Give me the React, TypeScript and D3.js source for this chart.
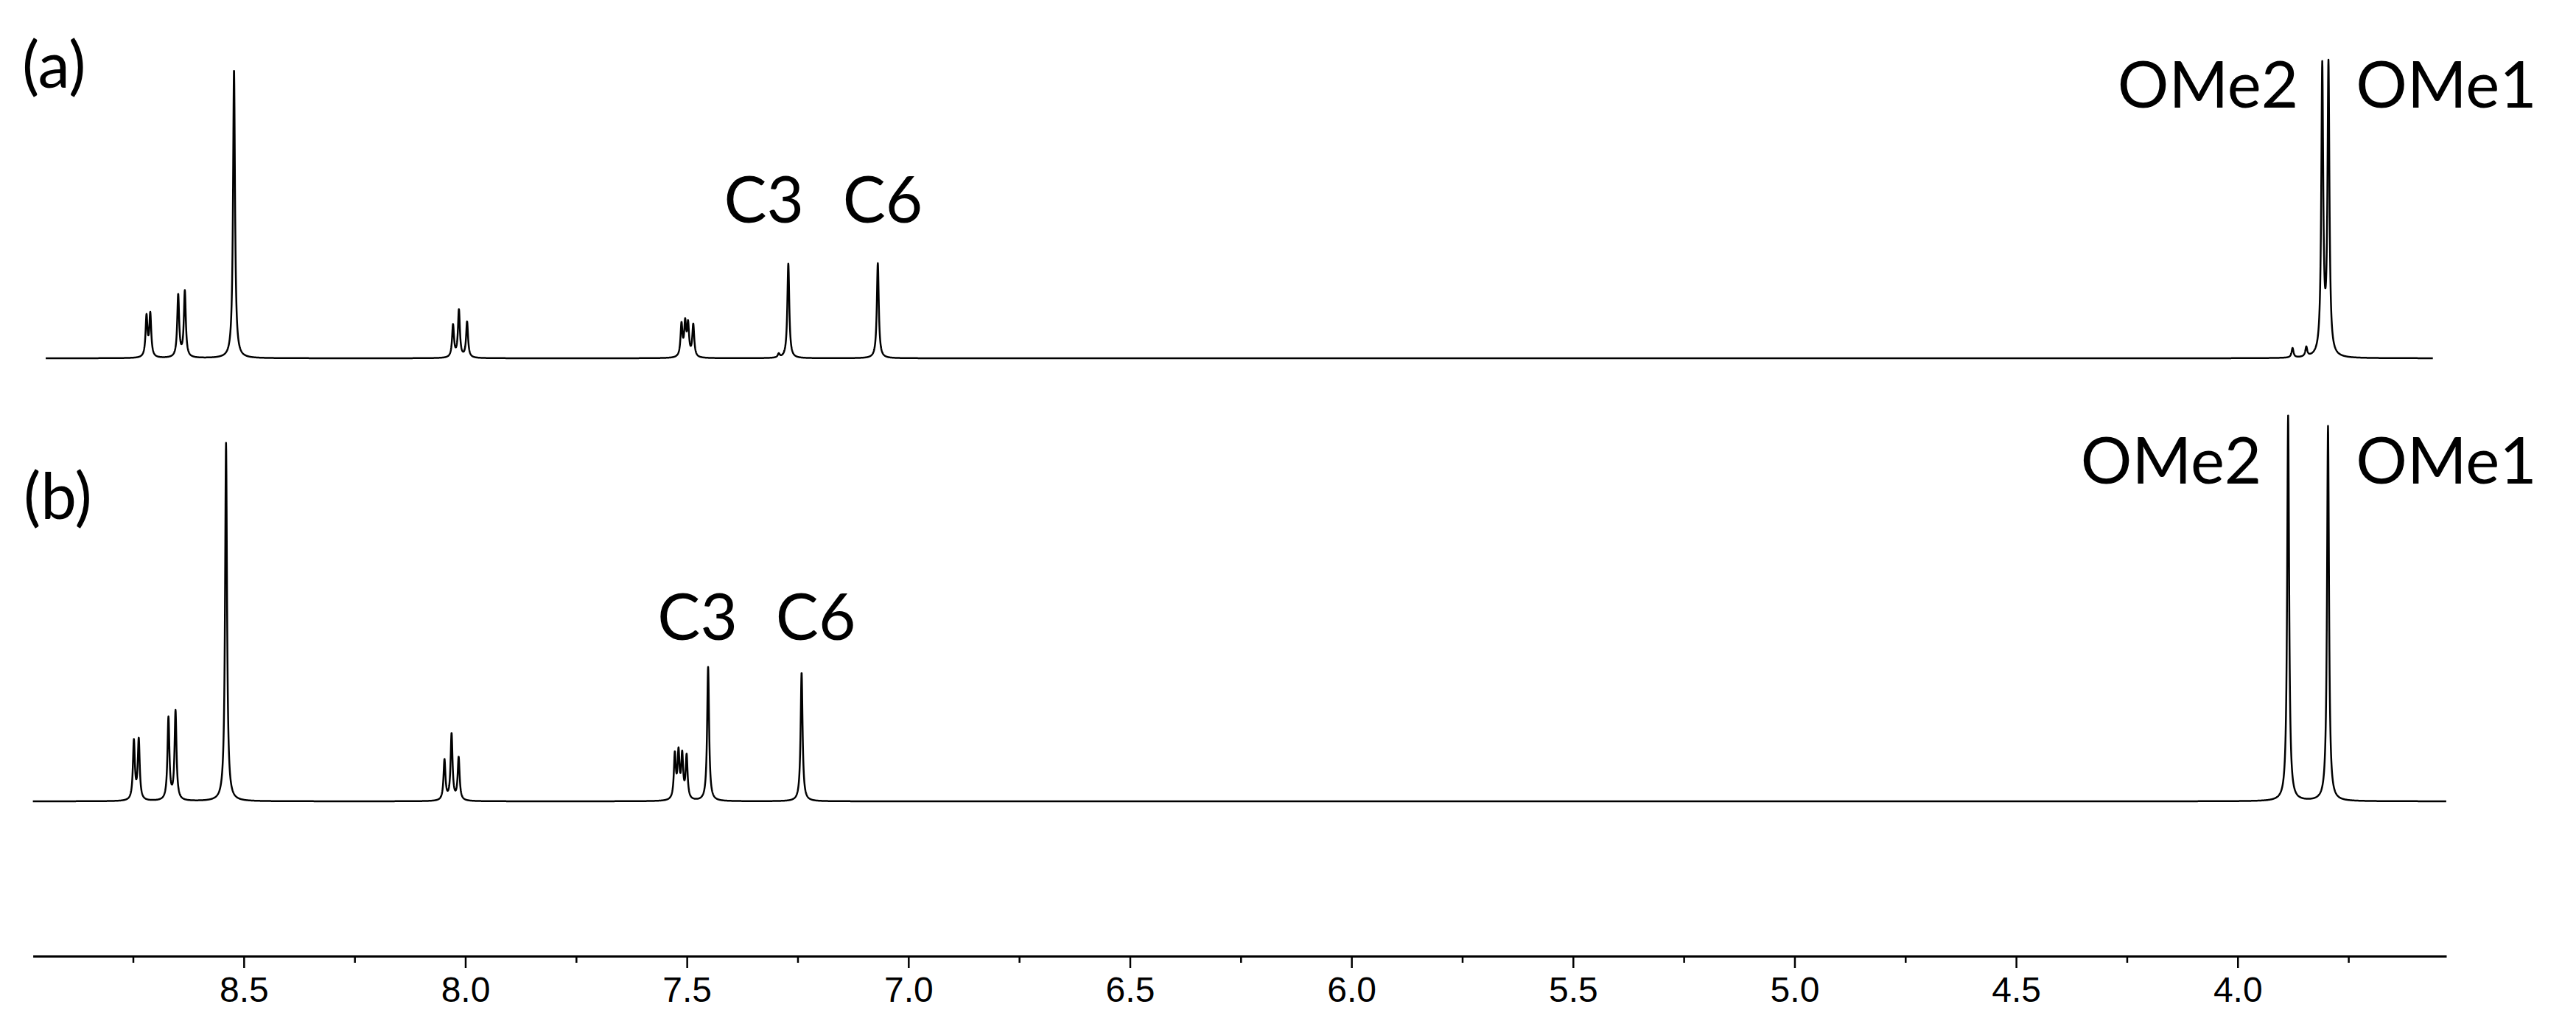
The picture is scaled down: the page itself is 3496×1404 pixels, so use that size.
import { useEffect, useMemo, useRef } from "react";
import * as d3 from "d3";

// peak lists: [ppm, relative height]
const peaksA: [number, number][] = [
  [8.7195, 14.0], [8.711, 14.8],
  [8.648, 21.6], [8.633, 22.9],
  [8.522, 100],
  [8.0277, 11.2], [8.0144, 16.4], [7.996, 12.4],
  [7.5121, 11.2], [7.5038, 11.2], [7.4972, 10.8], [7.4855, 11.2],
  [7.2926, 1.3],
  [7.271, 32.7],
  [7.069, 32.9],
  [3.876, 3.3], [3.845, 3.3],
  [3.809, 99.5], [3.795, 100],
];

const peaksB: [number, number][] = [
  [8.748, 20.4], [8.737, 20.9],
  [8.67, 28.5], [8.654, 30.8],
  [8.54, 124],
  [8.047, 14.0], [8.031, 23.0], [8.015, 14.8],
  [7.5271, 15.4], [7.5188, 15.6], [7.5105, 14.8], [7.5005, 15.0],
  [7.452, 46.4],
  [7.241, 44.6],
  [3.886, 133.4],
  [3.796, 129.8],
];

// window of each trace (ppm)
const rangeA = [8.947, 3.559];
const rangeB = [8.976, 3.529];

const majorTicks = [8.5, 8.0, 7.5, 7.0, 6.5, 6.0, 5.5, 5.0, 4.5, 4.0];
const minorTicks = [8.75, 8.25, 7.75, 7.25, 6.75, 6.25, 5.75, 5.25, 4.75, 4.25, 3.75];

// peak labels, anchored in ppm
const labelsA = [
  { text: "C3", ppm: 7.326 },
  { text: "C6", ppm: 7.058 },
  { text: "OMe2", ppm: 4.067 },
  { text: "OMe1", ppm: 3.529 },
];
const labelsB = [
  { text: "C3", ppm: 7.476 },
  { text: "C6", ppm: 7.209 },
  { text: "OMe2", ppm: 4.15 },
  { text: "OMe1", ppm: 3.529 },
];

const W = 3496;
const H = 1404;
const HWHM = 0.0026;
const STEP = 0.0004;
const FONT = "Lato, 'Open Sans', sans-serif";

function spectrum(peaks: [number, number][], range: number[]) {
  const pts: [number, number][] = [];
  for (let p = range[0]; p >= range[1]; p -= STEP) {
    let v = 0;
    for (const [c, h] of peaks) {
      const d = (p - c) / HWHM;
      v += h / (1 + d * d);
    }
    pts.push([p, v]);
  }
  return pts;
}

export default function App() {
  const axisRef = useRef<SVGGElement>(null);

  const x = d3.scaleLinear().domain([8.976, 3.529]).range([44.6, 3320]);
  const yA = d3.scaleLinear().domain([0, 100]).range([486, 94]);
  const yB = d3.scaleLinear().domain([0, 100]).range([1087, 695]);

  const pathA = useMemo(() => {
    const line = d3
      .line<[number, number]>()
      .x((d) => x(d[0]))
      .y((d) => yA(d[1]));
    return line(spectrum(peaksA, rangeA)) || "";
  }, []);

  const pathB = useMemo(() => {
    const line = d3
      .line<[number, number]>()
      .x((d) => x(d[0]))
      .y((d) => yB(d[1]));
    return line(spectrum(peaksB, rangeB)) || "";
  }, []);

  useEffect(() => {
    if (!axisRef.current) return;
    const g = d3.select(axisRef.current);
    g.selectAll("*").remove();

    const minor = d3
      .axisBottom(x)
      .tickValues(minorTicks)
      .tickSizeInner(9)
      .tickSizeOuter(0)
      .tickFormat(() => "");
    const major = d3
      .axisBottom(x)
      .tickValues(majorTicks)
      .tickSizeInner(16)
      .tickSizeOuter(0)
      .tickPadding(12)
      .tickFormat(d3.format(".1f"));

    const gm = g.append("g").call(minor);
    gm.select(".domain").remove();
    gm.selectAll("line").attr("stroke", "#000").attr("stroke-width", 2.5);

    const gM = g.append("g").call(major);
    gM.select(".domain").attr("stroke", "#000").attr("stroke-width", 3.2);
    gM.selectAll("line").attr("stroke", "#000").attr("stroke-width", 2.5);
    gM.selectAll("text")
      .attr("fill", "#000")
      .style("font-family", "'Liberation Sans', Arial, sans-serif")
      .style("font-size", "48px");
  }, []);

  const textStyle = { fontFamily: FONT, fontSize: 87, fill: "#000" };

  return (
    <svg
      width={W}
      height={H}
      style={{ position: "absolute", left: 0, top: 0, background: "#fff" }}
    >
      <rect width={W} height={H} fill="#fff" />

      <path d={pathA} fill="none" stroke="#000" strokeWidth={2.5} strokeLinejoin="round" />
      <path d={pathB} fill="none" stroke="#000" strokeWidth={2.5} strokeLinejoin="round" />

      <text x={30} y={119} style={textStyle}>(a)</text>
      <text x={32} y={704} style={textStyle}>(b)</text>

      {labelsA.map((l) => (
        <text
          key={"a" + l.text}
          x={x(l.ppm)}
          y={l.text.startsWith("OMe") ? 146 : 302}
          textAnchor="middle"
          style={textStyle}
        >
          {l.text}
        </text>
      ))}
      {labelsB.map((l) => (
        <text
          key={"b" + l.text}
          x={x(l.ppm)}
          y={l.text.startsWith("OMe") ? 656 : 868}
          textAnchor="middle"
          style={textStyle}
        >
          {l.text}
        </text>
      ))}

      <g ref={axisRef} transform="translate(0,1297)" />
    </svg>
  );
}
